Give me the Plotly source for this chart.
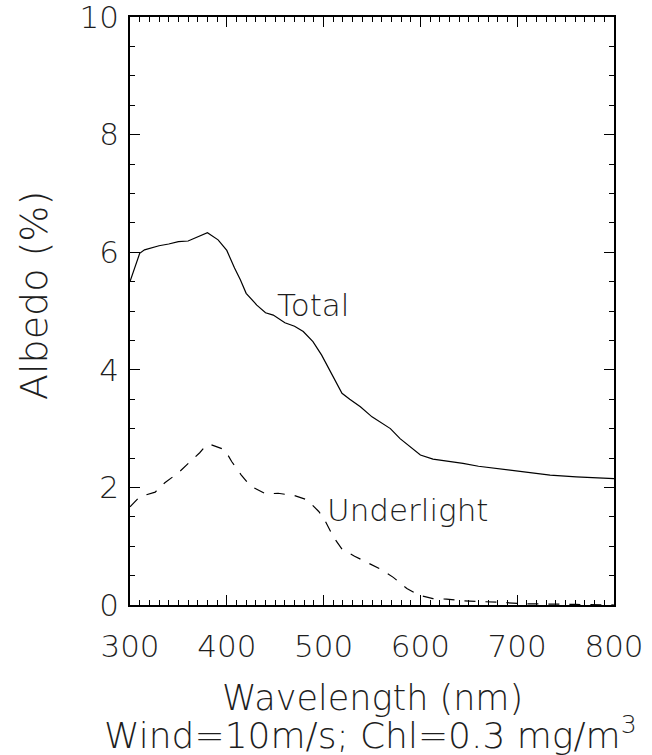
import plotly.graph_objects as go

# Spectral albedo components (percent) vs wavelength (nm)
wl_total = [300, 310, 315, 330, 340, 350, 360, 367, 380, 391, 400, 408, 414, 420, 431,
            440, 448, 460, 470, 479, 489, 498, 507, 519, 527, 538, 550, 569, 579, 589,
            600, 613, 631, 644, 660, 665, 693, 710, 734, 761, 796, 800]
albedo_total = [5.50, 5.98, 6.04, 6.11, 6.14, 6.18, 6.19, 6.24, 6.33, 6.21, 6.03, 5.73, 5.53,
                5.30, 5.10, 4.97, 4.93, 4.80, 4.74, 4.65, 4.48, 4.25, 3.97, 3.60, 3.50, 3.37,
                3.20, 3.00, 2.83, 2.69, 2.55, 2.48, 2.44, 2.41, 2.36, 2.35, 2.30, 2.26, 2.21,
                2.18, 2.15, 2.15]

wl_under = [300, 310, 326, 336, 350, 360, 372, 379, 383, 398, 405, 415, 424, 440, 453, 470,
            483, 495, 501, 510, 519, 532, 546, 560, 572, 586, 598, 613, 627, 645, 682,
            710, 760, 800]
albedo_under = [1.67, 1.84, 1.92, 2.08, 2.25, 2.41, 2.59, 2.72, 2.73, 2.64, 2.44, 2.21, 2.03,
                1.89, 1.90, 1.86, 1.79, 1.59, 1.45, 1.16, 0.95, 0.83, 0.71, 0.60, 0.47, 0.28,
                0.17, 0.11, 0.10, 0.07, 0.045, 0.02, 0.01, 0.0]

x_ticks = [300, 400, 500, 600, 700, 800]
y_ticks = [0, 2, 4, 6, 8, 10]

FONT = "DejaVu Sans, Verdana, sans-serif"
INK = "#000000"
TXT = "#1e1e1e"

fig = go.Figure()
fig.add_trace(go.Scatter(x=wl_total, y=albedo_total, mode="lines",
                         line=dict(color=INK, width=1.2), name="Total",
                         showlegend=False))
fig.add_trace(go.Scatter(x=wl_under, y=albedo_under, mode="lines",
                         line=dict(color=INK, width=1.2, dash="11px,10px"),
                         name="Underlight", showlegend=False))
# empty trace that attaches the minor-tick y axis to the plot
fig.add_trace(go.Scatter(x=[], y=[], xaxis="x", yaxis="y2", showlegend=False,
                         hoverinfo="skip"))

tick_font = dict(family=FONT, size=31, color=TXT, weight=200)
axis_common = dict(showline=True, linecolor=INK, linewidth=1.5, mirror="ticks",
                   ticks="inside", tickcolor=INK, tickwidth=1, ticklen=10,
                   showgrid=False, zeroline=False, tickmode="array",
                   ticklabeloverflow="allow", automargin=False, tickfont=tick_font)

fig.update_xaxes(range=[300, 800], tickvals=x_ticks,
                 minor=dict(ticks="inside", ticklen=5, dtick=10, tick0=300,
                            tickcolor=INK, showgrid=False),
                 ticklabelstandoff=13, **axis_common)
fig.update_yaxes(range=[0, 10], tickvals=y_ticks,
                 minor=dict(ticks="inside", ticklen=5, dtick=0.5, tick0=0,
                            tickcolor=INK, showgrid=False),
                 ticklabelstandoff=3, **axis_common)

fig.update_layout(
    yaxis2=dict(overlaying="y", anchor="x", side="left", range=[0, 10],
                tickmode="linear", tick0=0, dtick=0.5, ticks="inside", ticklen=5,
                tickcolor=INK, tickwidth=1, mirror="ticks", showline=False,
                showticklabels=False, showgrid=False, zeroline=False,
                automargin=False),
)

text_font = dict(family=FONT, size=31, color=TXT, weight=200)
fig.add_annotation(x=450, y=5.1, xref="x", yref="y", text="Total", showarrow=False,
                   xanchor="left", yanchor="middle", font=text_font)
fig.add_annotation(x=501, y=1.62, xref="x", yref="y", text="Underlight", showarrow=False,
                   xanchor="left", yanchor="middle", font=text_font)

# Outer labels placed by pixel position, converted to paper coordinates
L, R, T, B = 130, 38, 17, 150
W, H = 652, 755
pw, ph = W - L - R, H - T - B


def px_x(px):
    return (px - L) / pw


def px_y(py):
    return (H - py - B) / ph


fig.add_annotation(x=px_x(372), y=px_y(698), xref="paper", yref="paper",
                   text="Wavelength (nm)", showarrow=False,
                   xanchor="center", yanchor="middle",
                   font=dict(family=FONT, size=35, color=TXT, weight=200))
fig.add_annotation(x=px_x(370), y=px_y(733), xref="paper", yref="paper",
                   text="Wind=10m/s; Chl=0.3 mg/m<sup>3</sup>",
                   showarrow=False, xanchor="center", yanchor="middle",
                   font=dict(family=FONT, size=36, color=TXT, weight=200))
fig.add_annotation(x=px_x(34), y=px_y(296), xref="paper", yref="paper",
                   text="Albedo (%)", textangle=-90, showarrow=False,
                   xanchor="center", yanchor="middle",
                   font=dict(family=FONT, size=38, color=TXT, weight=200))

fig.update_layout(width=W, height=H, margin=dict(l=L, r=R, t=T, b=B, autoexpand=False),
                  plot_bgcolor="white", paper_bgcolor="white")

fig.write_html("out.html")
